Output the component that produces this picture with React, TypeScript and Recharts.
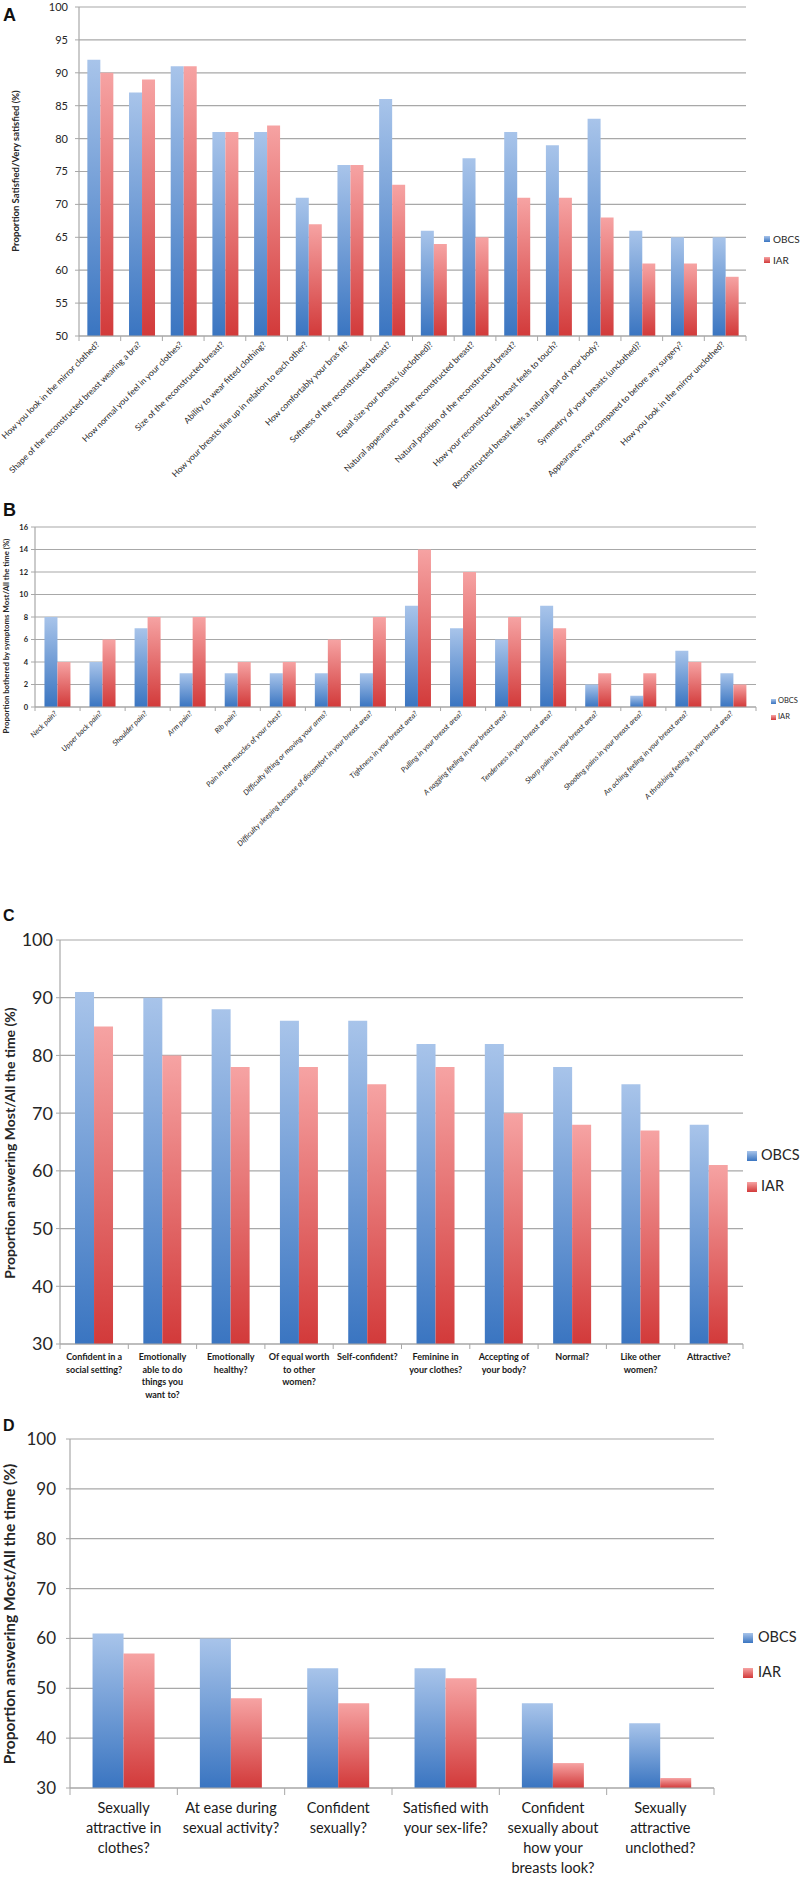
import React from 'react';
import { BarChart, Bar, XAxis, YAxis, CartesianGrid, Legend } from 'recharts';

const FONT = "Lato, 'Liberation Sans', Arial, sans-serif";
const GRID = '#A8A8A8';
const TEXT = '#262626';
const BLUE_TOP = '#A8C4EA';
const BLUE_BOT = '#3A75C1';
const RED_TOP = '#F6A3A3';
const RED_BOT = '#D23A3A';

// ---------- Panel A ----------
const catsA = [
  'How you look in the mirror clothed?',
  'Shape of the reconstructed breast wearing a bra?',
  'How normal you feel in your clothes?',
  'Size of the reconstructed breast?',
  'Ability to wear fitted clothing?',
  'How your breasts line up in relation to each other?',
  'How comfortably your bras fit?',
  'Softness of the reconstructed breast?',
  'Equal size your breasts (unclothed)?',
  'Natural appearance of the reconstructed breast?',
  'Natural position of the reconstructed breast?',
  'How your reconstructed breast feels to touch?',
  'Reconstructed breast feels a natural part of your body?',
  'Symmetry of your breasts (unclothed)?',
  'Appearance now compared to before any surgery?',
  'How you look in the mirror unclothed?',
];
const obcsA = [92, 87, 91, 81, 81, 71, 76, 86, 66, 77, 81, 79, 83, 66, 65, 65];
const iarA = [90, 89, 91, 81, 82, 67, 76, 73, 64, 65, 71, 71, 68, 61, 61, 59];
const ticksA = [50, 55, 60, 65, 70, 75, 80, 85, 90, 95, 100];

// ---------- Panel B ----------
const catsB = [
  'Neck pain?',
  'Upper back pain?',
  'Shoulder pain?',
  'Arm pain?',
  'Rib pain?',
  'Pain in the muscles of your chest?',
  'Difficulty lifting or moving your arms?',
  'Difficulty sleeping because of discomfort in your breast area?',
  'Tightness in your breast area?',
  'Pulling in your breast area?',
  'A nagging feeling in your breast area?',
  'Tenderness in your breast area?',
  'Sharp pains in your breast area?',
  'Shooting pains in your breast area?',
  'An aching feeling in your breast area?',
  'A throbbing feeling in your breast area?',
];
const obcsB = [8, 4, 7, 3, 3, 3, 3, 3, 9, 7, 6, 9, 2, 1, 5, 3];
const iarB = [4, 6, 8, 8, 4, 4, 6, 8, 14, 12, 8, 7, 3, 3, 4, 2];
const ticksB = [0, 2, 4, 6, 8, 10, 12, 14, 16];

// ---------- Panel C ----------
const catsC = [
  'Confident in a\nsocial setting?',
  'Emotionally\nable to do\nthings you\nwant to?',
  'Emotionally\nhealthy?',
  'Of equal worth\nto other\nwomen?',
  'Self-confident?',
  'Feminine in\nyour clothes?',
  'Accepting of\nyour body?',
  'Normal?',
  'Like other\nwomen?',
  'Attractive?',
];
const obcsC = [91, 90, 88, 86, 86, 82, 82, 78, 75, 68];
const iarC = [85, 80, 78, 78, 75, 78, 70, 68, 67, 61];
const ticksC = [30, 40, 50, 60, 70, 80, 90, 100];

// ---------- Panel D ----------
const catsD = [
  'Sexually\nattractive in\nclothes?',
  'At ease during\nsexual activity?',
  'Confident\nsexually?',
  'Satisfied with\nyour sex-life?',
  'Confident\nsexually about\nhow your\nbreasts look?',
  'Sexually\nattractive\nunclothed?',
];
const obcsD = [61, 60, 54, 54, 47, 43];
const iarD = [57, 48, 47, 52, 35, 32];
const ticksD = [30, 40, 50, 60, 70, 80, 90, 100];

const rows = (cats: string[], a: number[], b: number[]) =>
  cats.map((c, i) => ({ name: c, OBCS: a[i], IAR: b[i] }));

type TickOpts = {
  n: number;
  bw: number;
  kind: 'rot' | 'wrap';
  fontSize: number;
  italic?: boolean;
  bold?: boolean;
  lineH?: number;
  first: number;
  tickLen: number;
  color: string;
};

const makeXTick = (o: TickOpts) => (props: any) => {
  const { x, y, payload, index } = props;
  const half = o.bw / 2;
  const marks = [
    <line key="l" x1={x - half} x2={x - half} y1={y} y2={y + o.tickLen} stroke={GRID} strokeWidth={1} />,
  ];
  if (index === o.n - 1) {
    marks.push(
      <line key="r" x1={x + half} x2={x + half} y1={y} y2={y + o.tickLen} stroke={GRID} strokeWidth={1} />
    );
  }
  const common = {
    fontFamily: FONT,
    fontSize: o.fontSize,
    fill: o.color,
    fontStyle: o.italic ? 'italic' : 'normal',
    fontWeight: o.bold ? 700 : 400,
  } as any;
  let label;
  if (o.kind === 'rot') {
    label = (
      <text transform={`translate(${x},${y + o.first}) rotate(-45)`} textAnchor="end" {...common}>
        {payload.value}
      </text>
    );
  } else {
    const parts = String(payload.value).split('\n');
    label = (
      <text x={x} y={y + o.first} textAnchor="middle" {...common}>
        {parts.map((p, i) => (
          <tspan key={i} x={x} dy={i === 0 ? 0 : o.lineH}>
            {p}
          </tspan>
        ))}
      </text>
    );
  }
  return (
    <g>
      {marks}
      {label}
    </g>
  );
};

const makeLegend = (fs: number, sq: number, rowH: number, gap: number) => () => (
  <div style={{ fontFamily: FONT, fontSize: fs, color: TEXT, lineHeight: 1 }}>
    {[
      ['OBCS', `linear-gradient(${BLUE_TOP}, ${BLUE_BOT})`],
      ['IAR', `linear-gradient(${RED_TOP}, ${RED_BOT})`],
    ].map(([t, bg]) => (
      <div key={t} style={{ display: 'flex', alignItems: 'center', height: rowH, whiteSpace: 'nowrap' }}>
        <span style={{ display: 'inline-block', width: sq, height: sq, background: bg, marginRight: gap }} />
        <span>{t}</span>
      </div>
    ))}
  </div>
);

const Grad = (id: string) => (
  <defs>
    <linearGradient id={`${id}-b`} x1="0" y1="0" x2="0" y2="1">
      <stop offset="0%" stopColor={BLUE_TOP} />
      <stop offset="100%" stopColor={BLUE_BOT} />
    </linearGradient>
    <linearGradient id={`${id}-r`} x1="0" y1="0" x2="0" y2="1">
      <stop offset="0%" stopColor={RED_TOP} />
      <stop offset="100%" stopColor={RED_BOT} />
    </linearGradient>
  </defs>
);

type PanelCfg = {
  id: string;
  top: number;
  height: number;
  plotTop: number;
  plotLeft: number;
  plotRight: number;
  plotBottom: number;
  data: any[];
  domain: [number, number];
  ticks: number[];
  yFont: number;
  yBold?: boolean;
  yMargin: number;
  catGap: string;
  xTick: Omit<TickOpts, 'n' | 'bw'>;
  title: string;
  titleFont: number;
  titleX: number;
  titleY: number;
  legend: { left: number; top: number; fs: number; sq: number; rowH: number; gap: number };
};

const Panel = ({ cfg }: { cfg: PanelCfg }) => {
  const n = cfg.data.length;
  const bw = (cfg.plotRight - cfg.plotLeft) / n;
  const xAxisH = cfg.height - cfg.plotBottom;
  return (
    <div style={{ position: 'absolute', left: 0, top: cfg.top, width: 800, height: cfg.height }}>
      <BarChart
        width={800}
        height={cfg.height}
        data={cfg.data}
        margin={{ top: cfg.plotTop, right: 800 - cfg.plotRight, left: 0, bottom: 0 }}
        barCategoryGap={cfg.catGap}
        barGap={0}
      >
        {Grad(cfg.id)}
        <CartesianGrid vertical={false} stroke={GRID} strokeWidth={1.2} />
        <XAxis
          dataKey="name"
          height={xAxisH}
          interval={0}
          tickSize={0}
          tickMargin={0}
          axisLine={{ stroke: GRID, strokeWidth: 1.2 }}
          tickLine={false}
          tick={makeXTick({ ...cfg.xTick, n, bw })}
        />
        <YAxis
          type="number"
          width={cfg.plotLeft}
          domain={cfg.domain}
          ticks={cfg.ticks}
          interval={0}
          tickSize={4}
          tickMargin={cfg.yMargin}
          axisLine={{ stroke: GRID, strokeWidth: 1.2 }}
          tickLine={{ stroke: GRID }}
          tick={{ fontFamily: FONT, fontSize: cfg.yFont, fill: TEXT, fontWeight: cfg.yBold ? 700 : 400 }}
          allowDataOverflow
        />
        <Legend
          layout="vertical"
          align="center"
          verticalAlign="middle"
          wrapperStyle={{ left: cfg.legend.left, top: cfg.legend.top, width: 'auto' }}
          content={makeLegend(cfg.legend.fs, cfg.legend.sq, cfg.legend.rowH, cfg.legend.gap)}
        />
        <Bar dataKey="OBCS" name="OBCS" fill={`url(#${cfg.id}-b)`} isAnimationActive={false} />
        <Bar dataKey="IAR" name="IAR" fill={`url(#${cfg.id}-r)`} isAnimationActive={false} />
        <text
          transform={`translate(${cfg.titleX},${cfg.titleY}) rotate(-90)`}
          textAnchor="middle"
          dominantBaseline="central"
          fontFamily={FONT}
          fontWeight={700}
          fontSize={cfg.titleFont}
          fill={TEXT}
        >
          {cfg.title}
        </text>
      </BarChart>
    </div>
  );
};

const panelA: PanelCfg = {
  id: 'pa',
  top: 0,
  height: 495,
  plotTop: 7,
  plotLeft: 79,
  plotRight: 746,
  plotBottom: 336,
  data: rows(catsA, obcsA, iarA),
  domain: [50, 100],
  ticks: ticksA,
  yFont: 11,
  yMargin: 7,
  catGap: '20%',
  xTick: { kind: 'rot', fontSize: 8.5, first: 9, tickLen: 5, color: TEXT },
  title: 'Proportion Satisfied/Very satisfied (%)',
  titleFont: 9.5,
  titleX: 15,
  titleY: 171,
  legend: { left: 764, top: 228, fs: 10, sq: 6, rowH: 21, gap: 3 },
};

const panelB: PanelCfg = {
  id: 'pb',
  top: 500,
  height: 400,
  plotTop: 27,
  plotLeft: 35,
  plotRight: 756,
  plotBottom: 207,
  data: rows(catsB, obcsB, iarB),
  domain: [0, 16],
  ticks: ticksB,
  yFont: 7.5,
  yBold: true,
  yMargin: 3,
  catGap: '21%',
  xTick: { kind: 'rot', fontSize: 7.5, italic: true, first: 7, tickLen: 4, color: TEXT },
  title: 'Proportion bothered by symptoms Most/All the time (%)',
  titleFont: 7.8,
  titleX: 6,
  titleY: 136,
  legend: { left: 771, top: 193, fs: 7.5, sq: 5, rowH: 16, gap: 2 },
};

const panelC: PanelCfg = {
  id: 'pc',
  top: 905,
  height: 500,
  plotTop: 35,
  plotLeft: 60,
  plotRight: 743,
  plotBottom: 439,
  data: rows(catsC, obcsC, iarC),
  domain: [30, 100],
  ticks: ticksC,
  yFont: 18,
  yMargin: 3,
  catGap: '22%',
  xTick: { kind: 'wrap', fontSize: 9, bold: true, lineH: 12.5, first: 16, tickLen: 5, color: '#1a1a1a' },
  title: 'Proportion answering Most/All the time (%)',
  titleFont: 14,
  titleX: 9,
  titleY: 238,
  legend: { left: 747, top: 235, fs: 14.5, sq: 10, rowH: 31, gap: 4 },
};

const panelD: PanelCfg = {
  id: 'pd',
  top: 1410,
  height: 467,
  plotTop: 29,
  plotLeft: 70,
  plotRight: 714,
  plotBottom: 378,
  data: rows(catsD, obcsD, iarD),
  domain: [30, 100],
  ticks: ticksD,
  yFont: 17,
  yMargin: 10,
  catGap: '21%',
  xTick: { kind: 'wrap', fontSize: 14.5, lineH: 20, first: 25, tickLen: 7, color: '#1a1a1a' },
  title: 'Proportion answering Most/All the time (%)',
  titleFont: 15.5,
  titleX: 9,
  titleY: 204,
  legend: { left: 743, top: 210, fs: 14.5, sq: 10, rowH: 35, gap: 5 },
};

const letterStyle = (top: number, size: number): React.CSSProperties => ({
  position: 'absolute',
  left: 3,
  top,
  fontFamily: "'Liberation Sans', Arial, sans-serif",
  fontWeight: 700,
  fontSize: size,
  lineHeight: 1,
  color: '#111',
});

export default function App() {
  return (
    <div style={{ position: 'absolute', left: 0, top: 0, width: 800, height: 1877, background: '#fff', overflow: 'hidden' }}>
      <Panel cfg={panelA} />
      <Panel cfg={panelB} />
      <Panel cfg={panelC} />
      <Panel cfg={panelD} />
      <div style={letterStyle(6, 18)}>A</div>
      <div style={letterStyle(501, 18)}>B</div>
      <div style={letterStyle(908, 16)}>C</div>
      <div style={letterStyle(1418, 16)}>D</div>
    </div>
  );
}
